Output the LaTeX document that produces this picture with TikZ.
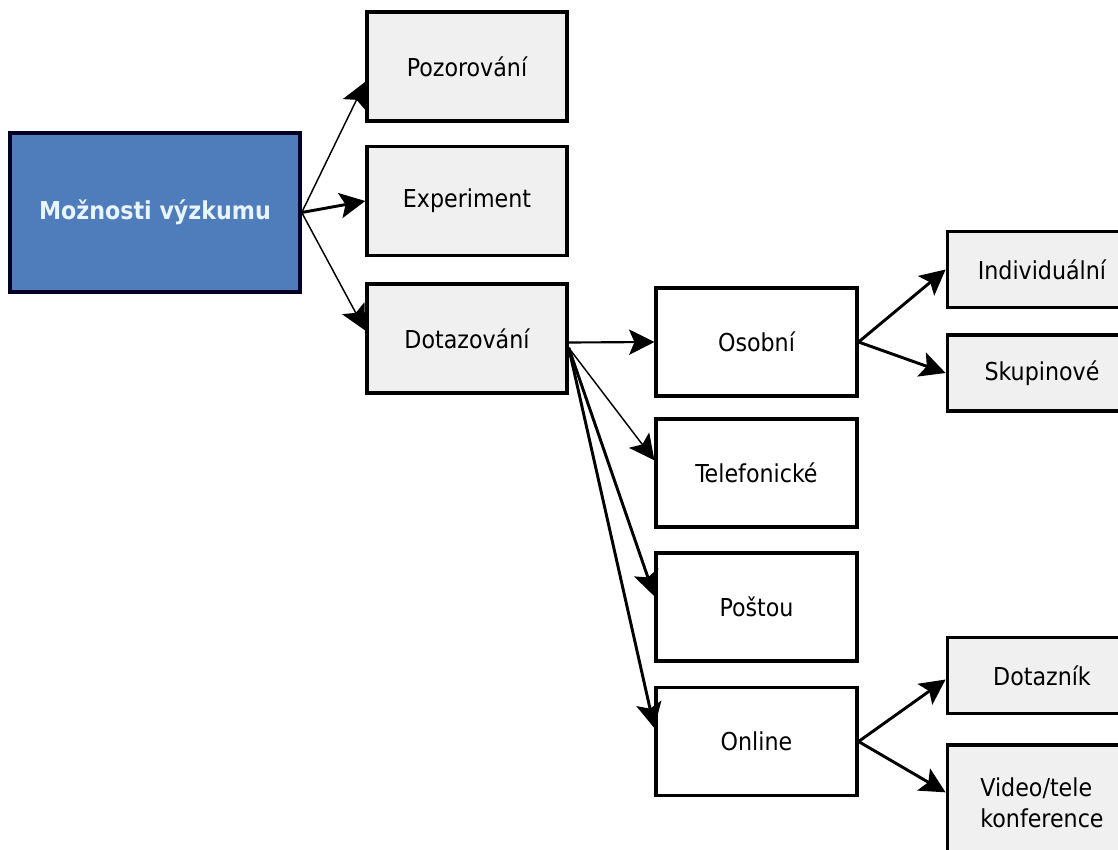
\documentclass[tikz,border=0pt]{standalone}
\usepackage{fontspec}
\setmainfont{DejaVu Sans Condensed}
\usetikzlibrary{arrows.meta}
\definecolor{vyzkumblue}{HTML}{4F7CBA}
\definecolor{vyzkumtext}{HTML}{E8F4FF}
\definecolor{vyzkumgray}{HTML}{F0F0F0}
\tikzstyle{blok}=[draw=black, line width=2.6pt, inner sep=0pt, font=\fontsize{18.5}{23}\selectfont]
\tikzstyle{hlavni}=[blok, fill=vyzkumblue, draw=black!85!blue, minimum width=217.5pt, minimum height=119pt, text=vyzkumtext, font=\fontsize{18.5}{23}\selectfont\bfseries]
\tikzstyle{druh}=[blok, fill=vyzkumgray, minimum width=150pt, minimum height=81.5pt]
\tikzstyle{forma}=[blok, fill=white, minimum width=150.5pt, minimum height=81pt]
\tikzstyle{podforma}=[blok, fill=vyzkumgray, minimum width=142pt, minimum height=57pt]
\tikzstyle{sipka}=[line width=2.2pt, -{Stealth[length=19pt,width=19pt,inset=4pt]}]
\tikzstyle{tenka}=[line width=1.1pt, -{Stealth[length=19pt,width=19pt,inset=4pt]}]

\begin{document}
\begin{tikzpicture}[x=0.75pt, y=-0.75pt]

        \useasboundingbox (0,0) rectangle (1118,850);
        \clip (0,0) rectangle (1118,850);


        \node [hlavni] (moznosti) at (155,212.5) {Možnosti výzkumu};


        \node [druh] (pozorovani) at (467,66.5) {Pozorování};

        \node [druh] (experiment) at (467,201) {Experiment};

        \node [druh] (dotazovani) at (467,338.5) {Dotazování};


        \node [forma] (osobni) at (756.5,342) {Osobní};

        \node [forma] (telefonicke) at (756.5,473) {Telefonické};

        \node [forma] (postou) at (756.5,607) {Poštou};

        \node [forma] (online) at (756.5,741.5) {Online};


        \node [podforma] (individualni) at (1042,269.5) {Individuální};

        \node [podforma] (skupinove) at (1042,373) {Skupinové};

        \node [podforma] (dotaznik) at (1042,675.5) {Dotazník};

        \node [podforma, minimum height=87pt, align=left] (videokonf) at (1042,803) {Video/tele\\konference};


%        sipky z hlavniho bloku
        \draw [tenka] (moznosti.east) -- ([yshift=-11.5pt]pozorovani.west);
        \draw [sipka] (moznosti.east) -- (experiment.west);
        \draw [tenka] (moznosti.east) -- ([yshift=6pt]dotazovani.west);

%        sipky z dotazovani
        \draw [sipka, line width=1.6pt] ([yshift=-3pt]dotazovani.east) -- (osobni.west);
        \draw [tenka] ([yshift=-7pt]dotazovani.east) -- ([yshift=9.5pt]telefonicke.west);
        \draw [sipka] ([yshift=-7pt]dotazovani.east) -- ([yshift=8pt]postou.west);
        \draw [sipka] ([yshift=-7pt]dotazovani.east) -- ([yshift=10pt]online.west);

        \draw [sipka] (osobni.east) -- (individualni.west);
        \draw [sipka] (osobni.east) -- (skupinove.west);

        \draw [sipka] (online.east) -- ([yshift=-3pt]dotaznik.west);
        \draw [sipka] (online.east) -- ([yshift=8pt]videokonf.west);

    \end{tikzpicture}
\end{document}
